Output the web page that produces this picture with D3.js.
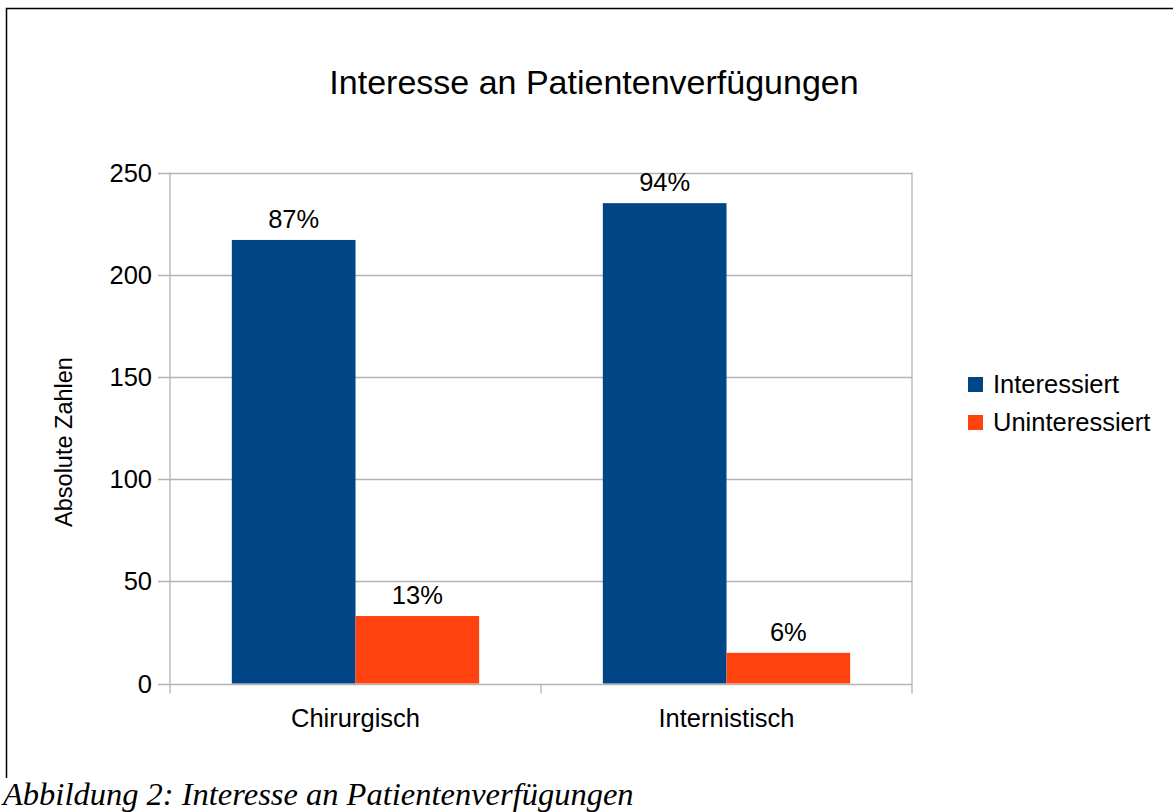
<!DOCTYPE html>
<html>
<head>
<meta charset="utf-8">
<script src="https://cdn.jsdelivr.net/npm/d3@7"></script>
<style>
  body { margin: 0; background: #fff; }
  svg { display: block; font-family: "Liberation Sans", Arial, sans-serif; }
</style>
</head>
<body>
<div id="chart"></div>
<script>
const categories = ['Chirurgisch', 'Internistisch'];
const seriesNames = ['Interessiert', 'Uninteressiert'];
const interessiert = [217, 235];
const uninteressiert = [33, 15];
const pctLabels = [['87%', '13%'], ['94%', '6%']];
const yTicks = [0, 50, 100, 150, 200, 250];
const colors = ['#004586', '#ff420e'];

const W = 1173, H = 812;
const plot = { left: 170, right: 912, top: 172.5, bottom: 683.5 };

const svg = d3.select('#chart').append('svg')
  .attr('width', W)
  .attr('height', H);

// outer frame (left and top edges)
svg.append('path')
  .attr('d', `M6.5,778 V8.5 H${W}`)
  .attr('fill', 'none')
  .attr('stroke', '#000')
  .attr('stroke-width', 1.5);

const x = d3.scaleBand()
  .domain(categories)
  .range([plot.left, plot.right])
  .paddingInner(0)
  .paddingOuter(0);

const inner = d3.scaleBand()
  .domain(seriesNames)
  .range([0, x.bandwidth()])
  .paddingInner(0)
  .paddingOuter(0.5);

const y = d3.scaleLinear()
  .domain([0, 250])
  .range([plot.bottom, plot.top]);

// grid lines
svg.append('g')
  .selectAll('line')
  .data(yTicks)
  .enter()
  .append('line')
  .attr('x1', plot.left - 12)
  .attr('x2', plot.right)
  .attr('y1', d => Math.round(y(d)) + 0.5)
  .attr('y2', d => Math.round(y(d)) + 0.5)
  .attr('stroke', '#b3b3b3')
  .attr('stroke-width', 1.3);

// left and right plot edges
[plot.left, plot.right].forEach(px => {
  svg.append('line')
    .attr('x1', px).attr('x2', px)
    .attr('y1', plot.top).attr('y2', plot.bottom + 10)
    .attr('stroke', '#b3b3b3')
    .attr('stroke-width', 1.3);
});

// category divider tick
svg.append('line')
  .attr('x1', plot.left + x.step()).attr('x2', plot.left + x.step())
  .attr('y1', plot.bottom).attr('y2', plot.bottom + 10)
  .attr('stroke', '#b3b3b3')
  .attr('stroke-width', 1.3);

// y tick labels
svg.append('g')
  .selectAll('text')
  .data(yTicks)
  .enter()
  .append('text')
  .attr('x', 152)
  .attr('y', d => y(d) + 9)
  .attr('text-anchor', 'end')
  .attr('font-size', 25.5)
  .attr('fill', '#000')
  .text(d => d);

// bars
const rows = categories.map((c, i) => ({
  cat: c,
  vals: [
    { s: seriesNames[0], v: interessiert[i], lbl: pctLabels[i][0], color: colors[0] },
    { s: seriesNames[1], v: uninteressiert[i], lbl: pctLabels[i][1], color: colors[1] }
  ]
}));

const groups = svg.append('g')
  .selectAll('g')
  .data(rows)
  .enter()
  .append('g')
  .attr('transform', d => `translate(${x(d.cat)},0)`);

groups.selectAll('rect')
  .data(d => d.vals)
  .enter()
  .append('rect')
  .attr('x', d => inner(d.s))
  .attr('y', d => y(d.v))
  .attr('width', inner.bandwidth())
  .attr('height', d => plot.bottom - y(d.v))
  .attr('fill', d => d.color);

groups.selectAll('text')
  .data(d => d.vals)
  .enter()
  .append('text')
  .attr('x', d => inner(d.s) + inner.bandwidth() / 2)
  .attr('y', d => y(d.v) - 12)
  .attr('text-anchor', 'middle')
  .attr('font-size', 25.5)
  .attr('fill', '#000')
  .text(d => d.lbl);

// category labels
svg.append('g')
  .selectAll('text')
  .data(categories)
  .enter()
  .append('text')
  .attr('x', d => x(d) + x.bandwidth() / 2)
  .attr('y', 727)
  .attr('text-anchor', 'middle')
  .attr('font-size', 25.5)
  .attr('fill', '#000')
  .text(d => d);

// y axis title
svg.append('text')
  .attr('transform', 'translate(72,442) rotate(-90)')
  .attr('text-anchor', 'middle')
  .attr('font-size', 23.5)
  .attr('fill', '#000')
  .text('Absolute Zahlen');

// chart title
svg.append('text')
  .attr('x', 594)
  .attr('y', 94)
  .attr('text-anchor', 'middle')
  .attr('font-size', 34)
  .attr('fill', '#000')
  .text('Interesse an Patientenverfügungen');

// legend
const legend = svg.append('g')
  .selectAll('g')
  .data(seriesNames)
  .enter()
  .append('g')
  .attr('transform', (d, i) => `translate(968,${377 + i * 38})`);

legend.append('rect')
  .attr('width', 15)
  .attr('height', 15)
  .attr('fill', (d, i) => colors[i]);

legend.append('text')
  .attr('x', 25)
  .attr('y', 16)
  .attr('font-size', 25.5)
  .attr('fill', '#000')
  .text(d => d);

// caption
svg.append('text')
  .attr('x', 3)
  .attr('y', 805)
  .attr('font-family', '"Liberation Serif", "Times New Roman", serif')
  .attr('font-style', 'italic')
  .attr('font-size', 32.5)
  .attr('fill', '#000')
  .text('Abbildung 2: Interesse an Patientenverfügungen');
</script>
</body>
</html>
